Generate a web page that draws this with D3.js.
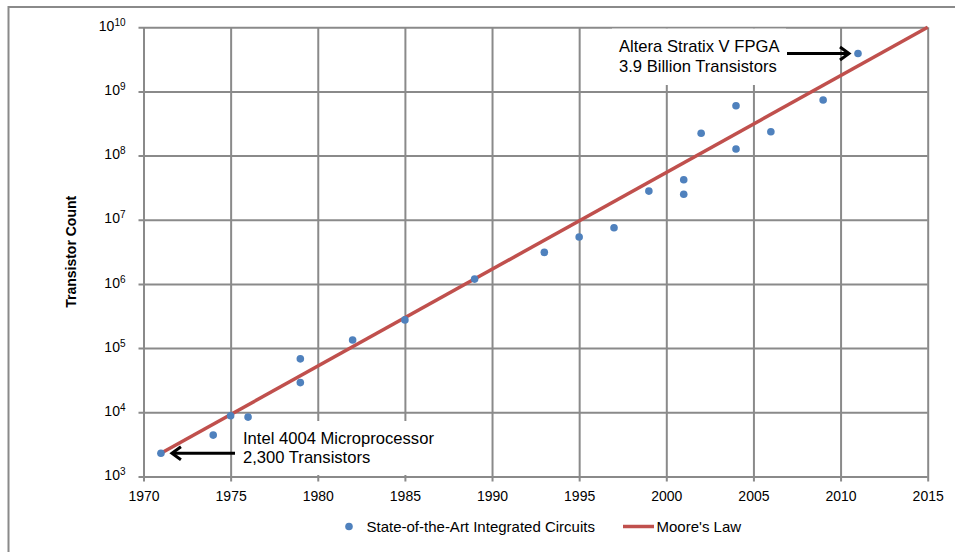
<!DOCTYPE html>
<html>
<head>
<meta charset="utf-8">
<script src="https://cdn.jsdelivr.net/npm/d3@7"></script>
<style>
  body { margin: 0; background: #fff; }
  text { font-family: "Liberation Sans", Arial, sans-serif; fill: #000; }
</style>
</head>
<body>
<div id="chart"></div>
<script>
// data
const chipYears = [1971, 1974, 1975, 1976, 1979, 1979, 1982, 1985, 1989, 1993, 1995, 1997, 1999, 2001, 2001, 2002, 2004, 2004, 2006, 2009, 2011];
const chipTransistors = [2300, 4400, 8800, 8400, 68000, 29000, 134000, 275000, 1190000, 3100000, 5400000, 7500000, 28000000, 42000000, 25000000, 223000000, 600000000, 127000000, 235000000, 736000000, 3900000000];

const mooreYears = [1971, 2015];
const mooreValues = [2300, 1e10];

const xTicks = [1970, 1975, 1980, 1985, 1990, 1995, 2000, 2005, 2010, 2015];
const yTicks = [1e3, 1e4, 1e5, 1e6, 1e7, 1e8, 1e9, 1e10];

const legendLabels = ["State-of-the-Art Integrated Circuits", "Moore's Law"];

const width = 955;
const height = 552;
const plotLeft = 143.5, plotRight = 927.7, plotTop = 27.3, plotBottom = 476.4;
const gridColor = "#8a8a8a";
const dotColor = "#4F81BD";
const lineColor = "#C0504D";

const svg = d3.select("#chart")
  .append("svg")
  .attr("width", width)
  .attr("height", height);

// outer frame (only top and left edges show)
svg.append("path")
  .attr("d", "M8.5,552 L8.5,7 L955,7")
  .attr("fill", "none")
  .attr("stroke", gridColor)
  .attr("stroke-width", 2);

const x = d3.scaleLinear()
  .domain([1970, 2015])
  .range([plotLeft, plotRight]);

const y = d3.scaleLog()
  .domain([1e3, 1e10])
  .range([plotBottom, plotTop]);

// X axis + vertical gridlines
const xAxis = svg.append("g")
  .attr("transform", "translate(0," + (plotBottom + 5) + ")")
  .call(d3.axisBottom(x)
    .tickValues(xTicks)
    .tickFormat(d3.format("d"))
    .tickSize(-(plotBottom - plotTop + 5))
    .tickPadding(9.4));
xAxis.select(".domain").remove();
xAxis.selectAll("line").attr("stroke", gridColor).attr("stroke-width", 2);
xAxis.selectAll("text")
  .style("font-size", "14px")
  .style("font-family", "Liberation Sans, Arial, sans-serif")
  .attr("fill", "#000");

// Y axis + horizontal gridlines
const yAxis = svg.append("g")
  .attr("transform", "translate(" + (plotLeft - 5) + ",0)")
  .call(d3.axisLeft(y)
    .tickValues(yTicks)
    .tickSize(-(plotRight - plotLeft + 5))
    .tickPadding(13));
yAxis.select(".domain").remove();
yAxis.selectAll("line").attr("stroke", gridColor).attr("stroke-width", 2);
yAxis.selectAll("text")
  .style("font-family", "Liberation Sans, Arial, sans-serif")
  .attr("fill", "#000")
  .each(function (d) {
    const t = d3.select(this).text("");
    t.append("tspan").style("font-size", "14px").text("10");
    t.append("tspan").style("font-size", "10px").attr("dy", "-5").text(Math.round(Math.log10(d)));
  });

// axis title
svg.append("text")
  .attr("transform", "translate(76," + ((plotTop + plotBottom) / 2) + ") rotate(-90)")
  .attr("text-anchor", "middle")
  .style("font-size", "14px")
  .style("font-weight", "bold")
  .text("Transistor Count");

// white boxes behind the annotations
svg.append("rect")
  .attr("x", 236).attr("y", 421)
  .attr("width", 204).attr("height", 54)
  .attr("fill", "#fff");
svg.append("rect")
  .attr("x", 612).attr("y", 28.6)
  .attr("width", 174).attr("height", 56.4)
  .attr("fill", "#fff");

// Moore's law line
const line = d3.line()
  .x(d => x(d[0]))
  .y(d => y(d[1]));

svg.append("path")
  .datum(d3.zip(mooreYears, mooreValues))
  .attr("d", line)
  .attr("fill", "none")
  .attr("stroke", lineColor)
  .attr("stroke-width", 3.5);

// Chip points
svg.selectAll("circle.chip")
  .data(d3.zip(chipYears, chipTransistors))
  .enter()
  .append("circle")
  .attr("class", "chip")
  .attr("cx", d => x(d[0]))
  .attr("cy", d => y(d[1]))
  .attr("r", 3.8)
  .attr("fill", dotColor);

// annotations
function arrow(x1, x2, yy) {
  // shaft from x1 to tip x2, chevron head at x2
  const dir = x2 > x1 ? 1 : -1;
  svg.append("path")
    .attr("d", "M" + x1 + "," + yy + " L" + (x2 - dir * 1.5) + "," + yy)
    .attr("stroke", "#000")
    .attr("stroke-width", 3)
    .attr("fill", "none");
  svg.append("path")
    .attr("d", "M" + (x2 - dir * 9) + "," + (yy - 6.5) + " L" + x2 + "," + yy + " L" + (x2 - dir * 9) + "," + (yy + 6.5))
    .attr("stroke", "#000")
    .attr("stroke-width", 3)
    .attr("stroke-linejoin", "miter")
    .attr("fill", "none");
}

const intel = svg.append("text").style("font-size", "16.6px");
intel.append("tspan").attr("x", 243).attr("y", 444.3).text("Intel 4004 Microprocessor");
intel.append("tspan").attr("x", 243).attr("y", 462.7).text("2,300 Transistors");
arrow(235, x(1971) + 11, y(2300));

const altera = svg.append("text").style("font-size", "16.6px");
altera.append("tspan").attr("x", 619).attr("y", 52.3).text("Altera Stratix V FPGA");
altera.append("tspan").attr("x", 619).attr("y", 72.3).text("3.9 Billion Transistors");
arrow(787, x(2011) - 9, y(3.9e9));

// legend
const legend = svg.append("g").attr("transform", "translate(0,526.5)");
legend.append("circle")
  .attr("cx", 349).attr("cy", 0).attr("r", 3.8)
  .attr("fill", dotColor);
legend.append("text")
  .attr("x", 366.5).attr("y", 5.5)
  .style("font-size", "15px")
  .text(legendLabels[0]);
legend.append("line")
  .attr("x1", 623).attr("x2", 654)
  .attr("y1", 0).attr("y2", 0)
  .attr("stroke", lineColor)
  .attr("stroke-width", 3.5);
legend.append("text")
  .attr("x", 656.5).attr("y", 5.5)
  .style("font-size", "15px")
  .text(legendLabels[1]);
</script>
</body>
</html>
